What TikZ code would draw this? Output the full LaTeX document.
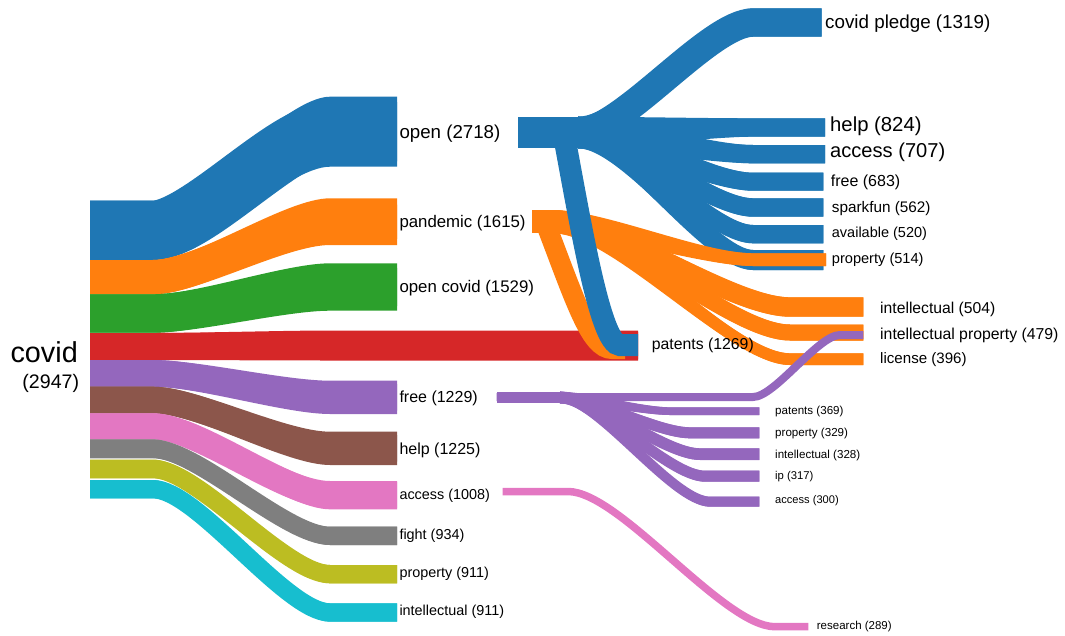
\documentclass[tikz,border=0pt]{standalone}
\usepackage{fontspec}
\setmainfont{Liberation Sans}
\definecolor{cblue}{HTML}{1F77B4}
\definecolor{corange}{HTML}{FF7F0E}
\definecolor{cgreen}{HTML}{2CA02C}
\definecolor{cred}{HTML}{D62728}
\definecolor{cpurple}{HTML}{9467BD}
\definecolor{cbrown}{HTML}{8C564B}
\definecolor{cpink}{HTML}{E377C2}
\definecolor{cgray}{HTML}{7F7F7F}
\definecolor{colive}{HTML}{BCBD22}
\definecolor{ccyan}{HTML}{17BECF}
\newcommand\curvk{0.25}
% band: colour, x start, curve start, curve end, x end, src top, src bottom, dst top, dst bottom
\newcommand\band[9]{%
  \pgfmathsetmacro\bandp{#3+\curvk*(#4-#3)}%
  \pgfmathsetmacro\bandq{#4-\curvk*(#4-#3)}%
  \pgfmathsetmacro\bandw{min(#7-#6,#9-#8)}%
  \pgfmathsetmacro\bandys{(#6+#7)/2}%
  \pgfmathsetmacro\bandyd{(#8+#9)/2}%
  \fill[#1] (#2,#6) -- (#3,#6) .. controls (\bandp,#6) and (\bandq,#8) .. (#4,#8) -- (#5,#8)
    -- (#5,#9) -- (#4,#9) .. controls (\bandq,#9) and (\bandp,#7) .. (#3,#7) -- (#2,#7) -- cycle;
  \draw[#1, line width=\bandw pt] (#2,\bandys) -- (#3,\bandys) .. controls (\bandp,\bandys) and (\bandq,\bandyd) .. (#4,\bandyd) -- (#5,\bandyd);}
% stroked link: colour, width, x start, curve start, curve end, x end, y start, y end
\newcommand\lnk[8]{%
  \pgfmathsetmacro\lnkp{#4+\curvk*(#5-#4)}%
  \pgfmathsetmacro\lnkq{#5-\curvk*(#5-#4)}%
  \draw[#1, line width=#2pt] (#3,#7) -- (#4,#7) .. controls (\lnkp,#7) and (\lnkq,#8) .. (#5,#8) -- (#6,#8);}
\newcommand\fs[1]{\fontsize{#1}{#1}\selectfont}
\tikzset{lbl/.style={anchor=west, inner sep=0pt, text=black}}
\begin{document}
\begin{tikzpicture}[x=1pt,y=-1pt]
\useasboundingbox (0,0) rectangle (1065,635);
% ---- first level ----
\band{cblue}{90}{153}{330}{397}{200.7}{260}{96.7}{166.7}
\band{corange}{90}{153}{330}{397}{260}{294.3}{198.3}{245}
\band{cgreen}{90}{153}{330}{397}{294.3}{332.7}{263.3}{310.7}
\band{cred}{90}{153}{330}{638}{333}{360}{330.5}{360.5}
\band{cpurple}{90}{153}{330}{397}{360}{386.7}{380.7}{414}
\band{cbrown}{90}{153}{330}{397}{386.7}{413.3}{431.7}{465}
\band{cpink}{90}{153}{330}{397}{413.3}{439.3}{481}{509.3}
\band{cgray}{90}{153}{330}{397}{439.3}{458.3}{526.7}{545}
\band{colive}{90}{153}{330}{397}{459.5}{478.3}{565}{583.3}
\band{ccyan}{90}{153}{330}{397}{480}{498.3}{603.3}{621.7}
% ---- open children ----
\fill[cblue] (518.3,116.7) rectangle (578,148.3);
\band{cblue}{578}{578}{753}{821.7}{116.7}{148.3}{8.3}{36.7}
\band{cblue}{578}{578}{753}{825}{116.7}{148.3}{118.3}{136.7}
\band{cblue}{578}{578}{753}{825}{116.7}{148.3}{145}{163.3}
\band{cblue}{578}{578}{753}{823.3}{116.7}{148.3}{172.7}{190.7}
\band{cblue}{578}{578}{753}{823.3}{116.7}{148.3}{198.3}{216.7}
\band{cblue}{578}{578}{753}{823.3}{116.7}{148.3}{225}{243.3}
\band{cblue}{578}{578}{753}{823.3}{116.7}{148.3}{250}{270}
% ---- pandemic children ----
\draw[corange, line width=20pt] (545,222) .. controls (575,300) and (590,349) .. (612,349) -- (625,349);
\fill[corange] (531.7,210) rectangle (553,233.3);
\band{corange}{553}{553}{753}{826}{210}{233.3}{253.3}{266}
\band{corange}{553}{553}{790}{863.3}{210}{233.3}{297.3}{316.7}
\band{corange}{553}{553}{790}{863.3}{210}{233.3}{324.5}{340.5}
\band{corange}{553}{553}{790}{863.3}{210}{233.3}{353.3}{365}
% ---- open -> patents ----
\draw[cblue, line width=22pt] (562,125) .. controls (580,220) and (600,345) .. (620,345) -- (638,345);
% ---- free children ----
\fill[cpurple] (496.7,391.7) rectangle (560,403.3);
\band{cpurple}{560}{560}{670}{759.3}{391.7}{403.3}{407.3}{415}
\band{cpurple}{560}{560}{690}{759.3}{391.7}{403.3}{427.3}{438.3}
\band{cpurple}{560}{560}{700}{759.3}{391.7}{403.3}{448.3}{460}
\band{cpurple}{560}{560}{705}{759.3}{391.7}{403.3}{470.7}{481.7}
\band{cpurple}{560}{560}{710}{759.3}{391.7}{403.3}{496.7}{506.7}
\lnk{cpurple}{8}{496.7}{753}{840}{863.3}{397}{335}
% ---- access children ----
\lnk{cpink}{7.5}{502.7}{568}{775}{808.3}{491.5}{626.7}
% ---- labels ----
\node[inner sep=0pt, anchor=east] (covid) at (78,351.7) {\fs{28.8}covid};
\node[inner sep=0pt, anchor=east] (covidn) at (79.3,383.3) {\fs{19.6}(2947)};
\node[lbl] (open) at (399.3,133.3) {\fs{18.7}open (2718)};
\node[lbl] (pandemic) at (399.3,222.7) {\fs{16.8}pandemic (1615)};
\node[lbl] (opencovid) at (399.3,288.3) {\fs{16.8}open covid (1529)};
\node[lbl] (free) at (399.3,398.3) {\fs{16}free (1229)};
\node[lbl] (help) at (399.3,450) {\fs{16}help (1225)};
\node[lbl] (access) at (399.3,495.7) {\fs{14.4}access (1008)};
\node[lbl] (fight) at (399.3,535.7) {\fs{14.4}fight (934)};
\node[lbl] (property) at (399.3,574) {\fs{14.4}property (911)};
\node[lbl] (intellectual) at (399.3,611.7) {\fs{14.4}intellectual (911)};
\node[lbl] (pledge) at (825,23.3) {\fs{18.8}covid pledge (1319)};
\node[lbl] (ohelp) at (830,126.7) {\fs{20.3}help (824)};
\node[lbl] (oaccess) at (830,152.7) {\fs{20.1}access (707)};
\node[lbl] (ofree) at (830.7,182.7) {\fs{16}free (683)};
\node[lbl] (osparkfun) at (831.7,208.3) {\fs{15.3}sparkfun (562)};
\node[lbl] (oavailable) at (831.7,233.3) {\fs{14.5}available (520)};
\node[lbl] (oproperty) at (831.7,259.3) {\fs{14.6}property (514)};
\node[lbl] (patents) at (651.7,345) {\fs{15.8}patents (1269)};
\node[lbl] (pintellectual) at (880,309.3) {\fs{15.7}intellectual (504)};
\node[lbl] (pip) at (880,335) {\fs{15.8}intellectual property (479)};
\node[lbl] (plicense) at (880,360) {\fs{15.1}license (396)};
\node[lbl] (fpatents) at (775,411.7) {\fs{11.6}patents (369)};
\node[lbl] (fproperty) at (775,433.3) {\fs{11.6}property (329)};
\node[lbl] (fintellectual) at (775,455) {\fs{11.6}intellectual (328)};
\node[lbl] (fip) at (775,476.7) {\fs{11.3}ip (317)};
\node[lbl] (faccess) at (775,501) {\fs{11.1}access (300)};
\node[lbl] (aresearch) at (816.7,626.7) {\fs{11.5}research (289)};
\end{tikzpicture}
\end{document}
